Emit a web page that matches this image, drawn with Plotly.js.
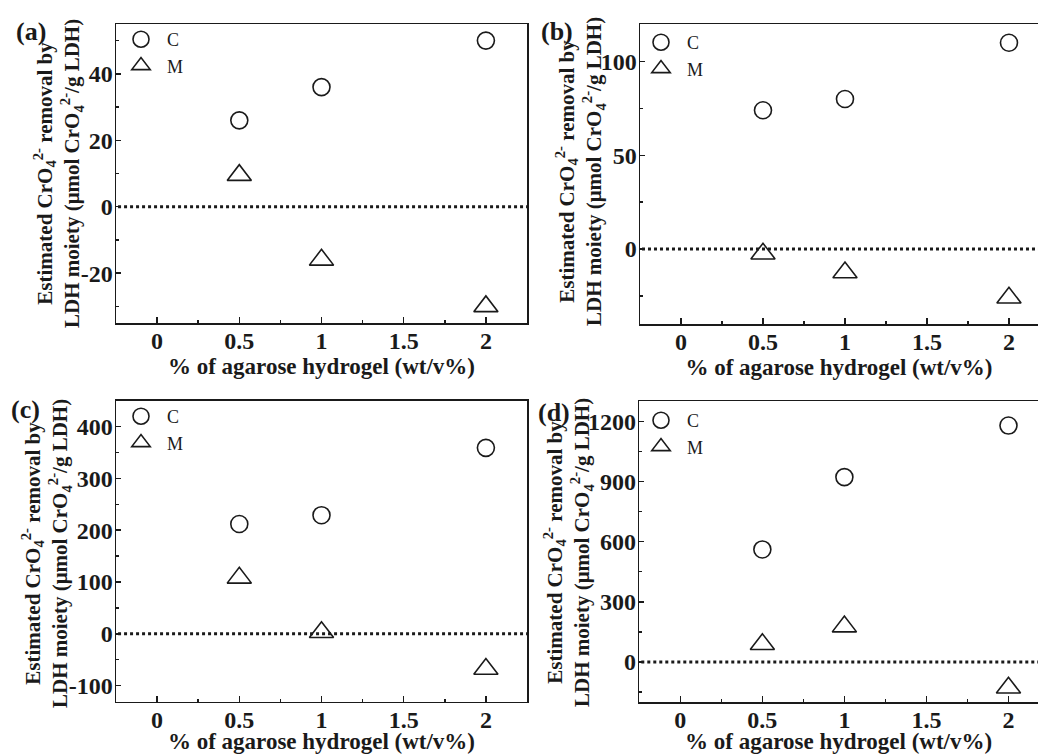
<!DOCTYPE html>
<html>
<head>
<meta charset="utf-8">
<script src="https://cdn.plot.ly/plotly-3.0.1.min.js"></script>
<style>
html,body{margin:0;padding:0;background:#fff;}
#chart{width:1038px;height:754px;}
</style>
</head>
<body>
<div id="chart"></div>
<script>
// ---- data ----
const agarose = [0.5, 1, 2];                 // % of agarose hydrogel (wt/v%)
const xTickVals = [0, 0.5, 1, 1.5, 2];
const xTickText = ['0', '0.5', '1', '1.5', '2'];
const xMinorTicks = [-0.25, 0.25, 0.75, 1.25, 1.75];
const seriesNames = ['C', 'M'];
const panelLabels = ['(a)', '(b)', '(c)', '(d)'];

const cA = [26, 36, 50];
const mA = [9.5, -16, -30];
const cB = [74, 80, 110];
const mB = [-2.5, -12.5, -26];
const cC = [212, 229, 359];
const mC = [108, 3, -68];
const cD = [561, 922, 1179];
const mD = [88, 176, -129];

const yRanges = [[-35, 55], [-40, 120], [-131, 450], [-200, 1300]];
const yTicksA = [-20, 0, 20, 40];
const yTicksB = [0, 50, 100];
const yTicksC = [-100, 0, 100, 200, 300, 400];
const yTicksD = [0, 300, 600, 900, 1200];
const yTickTextA = ['-20', '0', '20', '40'];
const yTickTextB = ['0', '50', '100'];
const yTickTextC = ['-100', '0', '100', '200', '300', '400'];
const yTickTextD = ['0', '300', '600', '900', '1200'];
const yMinorA = [-30, -10, 10, 30, 50];
const yMinorB = [-25, 25, 75];
const yMinorC = [-50, 50, 150, 250, 350];
const yMinorD = [-150, 150, 450, 750, 1050];
const zeroLevel = 0;

const xTitle = '% of agarose hydrogel (wt/v%)';
const yTitle = 'Estimated CrO<sub>4</sub><sup>2-</sup> removal by<br>LDH moiety (μmol CrO<sub>4</sub><sup>2-</sup>/g LDH)';

// ---- layout helpers ----
const W = 1038, H = 754;
const FONT = '"Liberation Serif", "Times New Roman", serif';
const INK = '#1a1a1a';
const px = v => v / W;
const py = v => 1 - v / H;

const panels = [
  {c: cA, m: mA, yt: yTicksA, ytt: yTickTextA, ym: yMinorA,
   xd: [px(116), px(527)], yd: [py(323), py(24)], xr: [-0.25, 2.25], box: true,
   legend: [115, 21], ytitle: [58, 174], label: [31, 32]},
  {c: cB, m: mB, yt: yTicksB, ytt: yTickTextB, ym: yMinorB,
   xd: [px(640), 1], yd: [py(324), py(24)], xr: [-0.25, 2.177], box: false,
   legend: [635, 24], ytitle: [580, 172], label: [557, 32]},
  {c: cC, m: mC, yt: yTicksC, ytt: yTickTextC, ym: yMinorC,
   xd: [px(116), px(527)], yd: [py(701.7), py(400.7)], xr: [-0.25, 2.25], box: true,
   legend: [115, 398], ytitle: [46, 554], label: [25, 409]},
  {c: cD, m: mD, yt: yTicksD, ytt: yTickTextD, ym: yMinorD,
   xd: [px(639.3), 1], yd: [py(702), py(401.3)], xr: [-0.25, 2.18], box: false,
   legend: [635, 402], ytitle: [568, 553], label: [554, 412]}
];

const traces = [];
const layout = {
  width: W, height: H,
  margin: {l: 0, r: 0, t: 0, b: 0},
  paper_bgcolor: '#ffffff',
  plot_bgcolor: 'rgba(0,0,0,0)',
  showlegend: true,
  font: {family: FONT, color: INK},
  shapes: [],
  annotations: []
};

panels.forEach((p, i) => {
  const sfx = i === 0 ? '' : String(i + 1);
  const xa = 'x' + sfx, ya = 'y' + sfx;
  const lg = 'legend' + sfx;

  traces.push({
    type: 'scatter', mode: 'markers', name: seriesNames[0],
    x: agarose, y: p.c, xaxis: xa, yaxis: ya, legend: lg,
    marker: {symbol: 'circle-open', size: 17, color: INK, line: {width: 1.6, color: INK}},
    cliponaxis: false
  });
  traces.push({
    type: 'scatter', mode: 'markers', name: seriesNames[1],
    x: agarose, y: p.m, xaxis: xa, yaxis: ya, legend: lg,
    marker: {symbol: 'triangle-up-open', size: 21, color: INK, line: {width: 1.6, color: INK}},
    cliponaxis: false
  });

  layout['xaxis' + sfx] = {
    domain: p.xd, range: p.xr, anchor: ya,
    tickmode: 'array', tickvals: xTickVals, ticktext: xTickText,
    ticks: 'inside', ticklen: 6, tickwidth: 1.5, tickcolor: INK,
    ticklabelstandoff: -4,
    minor: {tickmode: 'array', tickvals: xMinorTicks, ticks: 'inside', ticklen: 3, tickwidth: 1.5, tickcolor: INK, showgrid: false},
    showline: true, linecolor: INK, linewidth: 1.5, mirror: true,
    showgrid: false, zeroline: false,
    tickfont: {family: FONT, size: 24, weight: 'bold', color: INK},
    title: {text: xTitle, font: {family: FONT, size: 23, weight: 'bold', color: INK}, standoff: 1}
  };
  layout['yaxis' + sfx] = {
    domain: p.yd, range: yRanges[i], anchor: xa,
    tickmode: 'array', tickvals: p.yt, ticktext: p.ytt,
    ticks: 'inside', ticklen: 5, tickwidth: 1.5, tickcolor: INK,
    ticklabelstandoff: -3,
    minor: {tickmode: 'array', tickvals: p.ym, ticks: 'inside', ticklen: 3, tickwidth: 1.5, tickcolor: INK, showgrid: false},
    showline: true, linecolor: INK, linewidth: 1.5, mirror: p.box,
    showgrid: false, zeroline: false,
    tickfont: {family: FONT, size: 24, weight: 'bold', color: INK}
  };
  layout[lg] = {
    x: px(p.legend[0]), y: py(p.legend[1]), xanchor: 'left', yanchor: 'top',
    xref: 'paper', yref: 'paper',
    bgcolor: 'rgba(0,0,0,0)', borderwidth: 0,
    itemwidth: 42, tracegroupgap: 0,
    font: {family: FONT, size: 18, color: INK, weight: 'normal'}
  };

  layout.shapes.push({
    type: 'line', xref: xa + ' domain', yref: ya,
    x0: 0.005, x1: 1, y0: zeroLevel, y1: zeroLevel,
    line: {color: INK, width: 3, dash: 'dot'}
  });

  layout.annotations.push({
    xref: 'paper', yref: 'paper', x: px(p.ytitle[0]), y: py(p.ytitle[1]),
    xanchor: 'center', yanchor: 'middle', textangle: -90, showarrow: false,
    text: yTitle, font: {family: FONT, size: 21, weight: 'bold', color: INK}
  });
  layout.annotations.push({
    xref: 'paper', yref: 'paper', x: px(p.label[0]), y: py(p.label[1]),
    xanchor: 'center', yanchor: 'middle', showarrow: false,
    text: panelLabels[i], font: {family: FONT, size: 26, weight: 'bold', color: INK}
  });
});

Plotly.newPlot('chart', traces, layout, {staticPlot: true, displayModeBar: false});
</script>
</body>
</html>
